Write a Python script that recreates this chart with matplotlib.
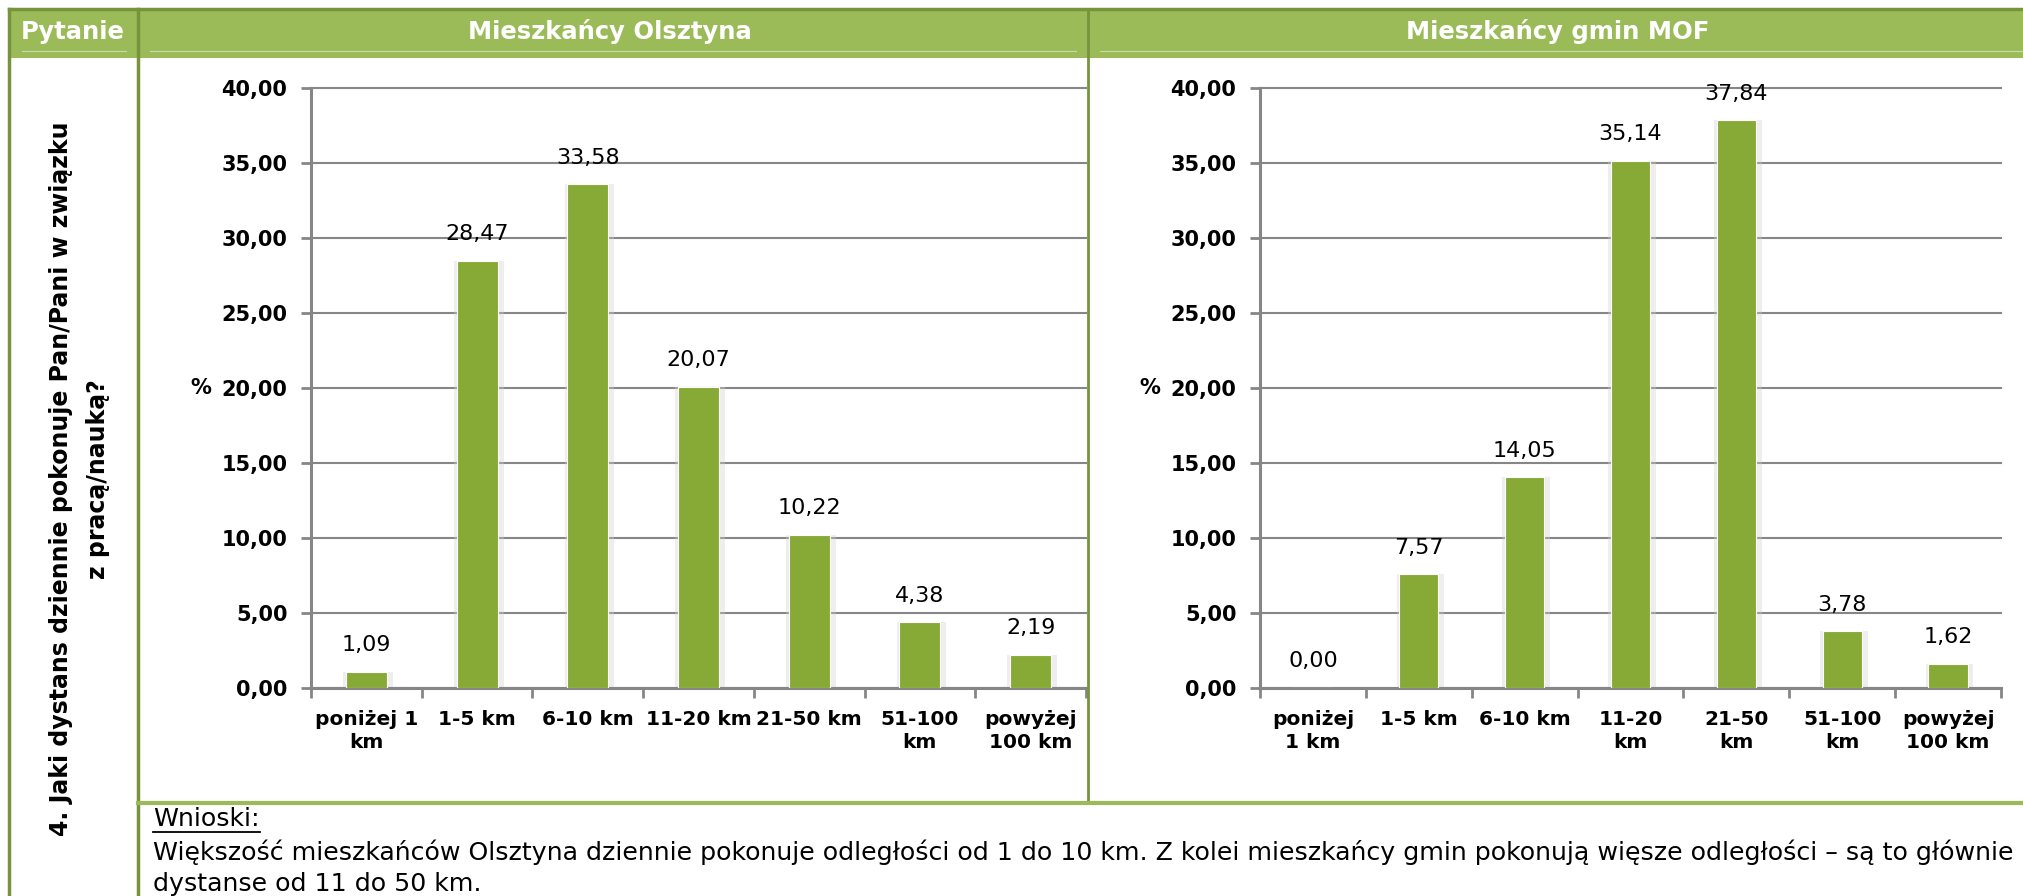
import matplotlib.pyplot as plt
import numpy as np
from matplotlib.lines import Line2D
from matplotlib.patches import Rectangle

# dane
categories_olsztyn = ['poniżej 1\nkm', '1-5 km', '6-10 km', '11-20 km', '21-50 km', '51-100\nkm', 'powyżej\n100 km']
values_olsztyn = [1.09, 28.47, 33.58, 20.07, 10.22, 4.38, 2.19]
categories_mof = ['poniżej\n1 km', '1-5 km', '6-10 km', '11-20\nkm', '21-50\nkm', '51-100\nkm', 'powyżej\n100 km']
values_mof = [0.00, 7.57, 14.05, 35.14, 37.84, 3.78, 1.62]
y_ticks = [0, 5, 10, 15, 20, 25, 30, 35, 40]

header_question = 'Pytanie'
header_left = 'Mieszkańcy Olsztyna'
header_right = 'Mieszkańcy gmin MOF'
question_lines = ['4. Jaki dystans dziennie pokonuje Pan/Pani w związku', 'z pracą/nauką?']
conclusion_title = 'Wnioski:'
conclusion_lines = ['Większość mieszkańców Olsztyna dziennie pokonuje odległości od 1 do 10 km. '
                    'Z kolei mieszkańcy gmin pokonują więsze odległości – są to głównie',
                    'dystanse od 11 do 50 km.']

HEADER = '#9BBB59'
BORDER = '#77933C'
BAR = '#86AA35'
GRID = '#868686'

W, H = 2024, 896


def fx(x):
    return x / W


def fy(y):
    return 1 - y / H


def comma(v):
    return f'{v:.2f}'.replace('.', ',')


fig = plt.figure(figsize=(W / 100, H / 100), dpi=100)
fig.patch.set_facecolor('white')

# naglowek tabeli
fig.add_artist(Rectangle((fx(9), fy(58)), fx(2024) - fx(9), fy(9) - fy(58),
                         transform=fig.transFigure, color=HEADER, lw=0))
for x0, x1 in [(22, 126), (150, 1076), (1100, 2024)]:
    fig.add_artist(Line2D([fx(x0), fx(x1)], [fy(51), fy(51)], color='#C9DBA6', lw=0.8))
fig.add_artist(Line2D([fx(9), fx(2024)], [fy(9), fy(9)], color=BORDER, lw=2.5))
fig.add_artist(Line2D([fx(9), fx(9)], [fy(9), fy(896)], color=BORDER, lw=2.5))
fig.add_artist(Line2D([fx(138), fx(138)], [fy(9), fy(896)], color=BORDER, lw=2.5))
fig.add_artist(Line2D([fx(1088), fx(1088)], [fy(9), fy(802)], color=BORDER, lw=2))
fig.add_artist(Line2D([fx(138), fx(2024)], [fy(803), fy(803)], color=HEADER, lw=3))

hdr = dict(color='white', fontsize=17.5, fontweight='bold', ha='center', va='center')
fig.text(fx(73), fy(32), header_question, **hdr)
fig.text(fx(610), fy(32), header_left, **hdr)
fig.text(fx(1558), fy(32), header_right, **hdr)

# pytanie w lewej kolumnie
fig.text(fx(61), fy(479), question_lines[0], rotation=90, fontsize=17, fontweight='bold',
         ha='center', va='center')
fig.text(fx(98), fy(479), question_lines[1], rotation=90, fontsize=17, fontweight='bold',
         ha='center', va='center')


def draw_chart(ax, cats, vals, pct_x):
    x = np.arange(len(cats))
    ax.bar(x + 0.015, vals, width=0.45, color='#d0d0d0', alpha=0.35, lw=0, zorder=2)
    ax.bar(x, vals, width=0.37, color=BAR, edgecolor='white', linewidth=0.8, zorder=3)
    for xi, v in zip(x, vals):
        ax.annotate(comma(v), (xi, v), xytext=(0, 12), textcoords='offset points',
                    ha='center', va='bottom', fontsize=16)
    ax.set_xlim(-0.5, len(cats) - 0.5)
    ax.set_ylim(0, 40)
    ax.set_yticks(y_ticks)
    ax.set_yticklabels([comma(v) for v in y_ticks], fontsize=15, fontweight='bold')
    ax.yaxis.grid(True, color=GRID, lw=1.5)
    for gl in ax.get_ygridlines():
        gl.set_clip_on(False)
    ax.set_axisbelow(True)
    ax.set_xticks(x)
    ax.set_xticklabels(cats, fontsize=14.5, fontweight='bold', linespacing=1.25)
    ax.set_xticks(np.arange(-0.5, len(cats), 1), minor=True)
    ax.tick_params(axis='x', which='major', length=0, pad=16)
    ax.tick_params(axis='x', which='minor', length=7, width=2, color=GRID, direction='out')
    ax.tick_params(axis='y', length=7, width=2, color=GRID, pad=10)
    for s in ['top', 'right']:
        ax.spines[s].set_visible(False)
    for s in ['left', 'bottom']:
        ax.spines[s].set_color(GRID)
        ax.spines[s].set_linewidth(2.2)
    ax.set_ylabel('%', rotation=0, fontsize=15, fontweight='bold', va='center', ha='center')
    ax.yaxis.set_label_coords(pct_x, 0.5)


ax1 = fig.add_axes([fx(311), fy(688), (1086 - 311) / W, (688 - 88) / H])
draw_chart(ax1, categories_olsztyn, values_olsztyn, (201 - 311) / 775)
ax2 = fig.add_axes([fx(1260), fy(688), (2001 - 1260) / W, (688 - 88) / H])
draw_chart(ax2, categories_mof, values_mof, (1150 - 1260) / 741)

# wnioski
t = fig.text(fx(153), fy(819), conclusion_title, fontsize=18.2, ha='left', va='center')
fig.text(fx(153), fy(852), conclusion_lines[0], fontsize=18.2, ha='left', va='center')
fig.text(fx(153), fy(884), conclusion_lines[1], fontsize=18.2, ha='left', va='center')
fig.canvas.draw()
bb = t.get_window_extent(fig.canvas.get_renderer())
fig.add_artist(Line2D([bb.x0 / W, bb.x1 / W], [fy(832), fy(832)], color='black', lw=1.3))

fig.savefig('out.png', dpi=100)
